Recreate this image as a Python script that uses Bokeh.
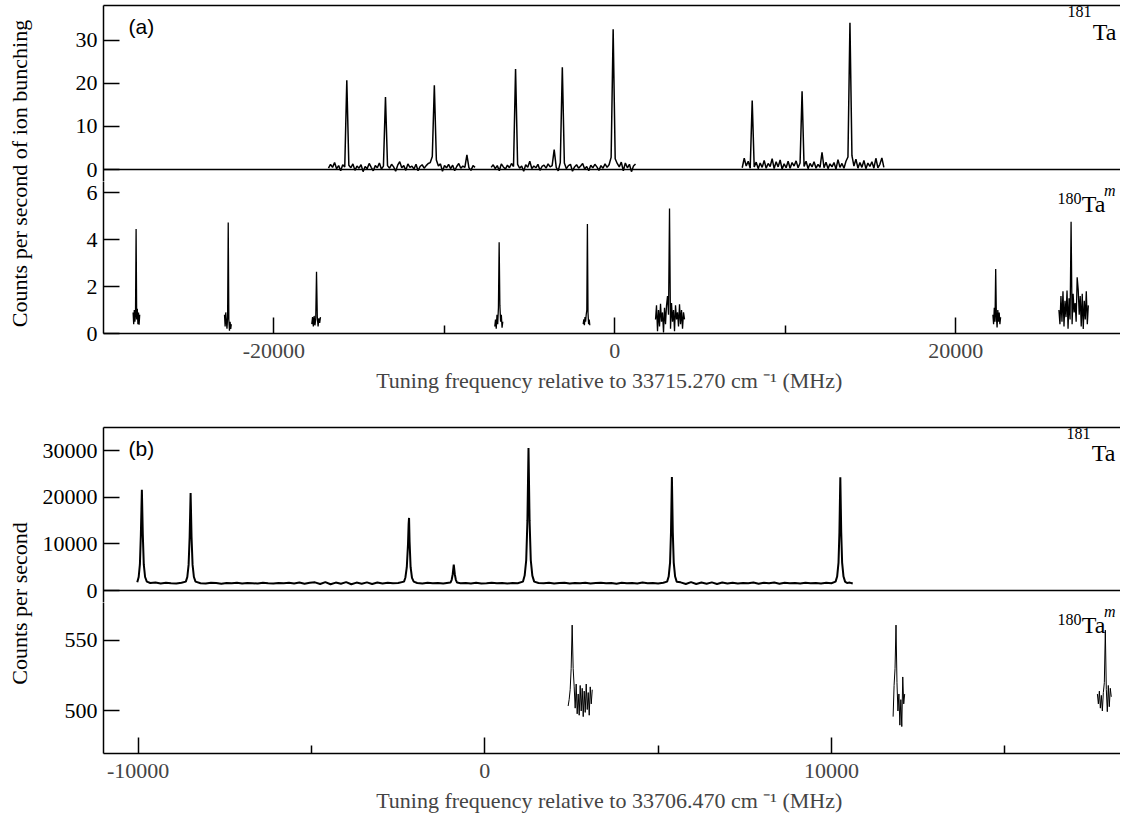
import numpy as np
from bokeh.plotting import figure
from bokeh.layouts import column, row
from bokeh.models import Range1d, FixedTicker, LinearAxis, Span, PrintfTickFormatter
from bokeh.core.properties import value
from bokeh.embed import file_html
from bokeh.resources import INLINE

# ======================= DATA =======================
# ---- panel (a), 181Ta : three scans, (start, end) in MHz, counts on an even grid
a181_ranges = [(-16800, -8200), (-7255, 1215), (7476, 15786)]
a181_s1 = [0.3, 1.2, 0.5, 1.6, 0.2, 0.9, -0.3, 1.1, 0.6, 20.7,
           1.0, 0.4, 1.3, -0.2, 0.8, 0.3, 1.1, -0.5, 0.7, 0.2,
           1.4, 0.5, -0.3, 0.9, 0.4, 1.5, 0.1, 0.8, 16.8, 0.9,
           0.3, 1.2, 0.6, -0.4, 1.0, 1.8, 0.4, 0.9, -0.2, 1.3,
           0.5, 0.8, 0.1, 1.2, -0.3, 0.7, 1.1, 0.3, 0.9, 1.4,
           1.6, 3.0, 19.5, 2.2, 0.8, 1.3, -0.4, 0.9, 0.4, 1.2,
           0.2, 1.0, -0.3, 0.7, 1.4, 0.3, 0.8, 0.5, 3.4, 0.4,
           -0.2, 0.9, 0.5]
a181_s2 = [0.5, 1.1, 0.2, 0.9, -0.3, 1.3, 0.6, 0.1, 1.0, 0.4,
           1.4, 0.7, 23.3, 1.2, 0.3, 0.8, -0.4, 1.1, 0.5, 1.9,
           0.2, 0.8, 0.4, 1.2, -0.2, 0.7, 1.0, 0.3, 1.3, 0.6,
           0.9, 4.6, 0.5, -0.3, 1.6, 23.7, 1.5, 0.2, 0.9, 1.2,
           -0.4, 0.6, 1.1, 0.3, 0.8, 1.4, 0.1, 0.7, -0.3, 1.0,
           0.4, 1.2, 0.6, -0.2, 0.9, 0.3, 1.3, 0.5, 1.1, 2.8,
           32.5, 2.5, 1.4, 0.6, 1.7, -0.3, 1.5, 0.4, 1.2, -0.5,
           0.8, 1.3]
a181_s3 = [0.4, 2.6, 0.8, 1.9, 0.3, 16.0, 0.6, 1.7, 0.2, 1.5,
           0.5, 2.1, 0.3, 1.4, 0.7, 2.5, 0.2, 1.8, 0.6, 2.2,
           0.1, 1.3, 0.4, 1.9, 0.3, 1.6, 0.8, 2.0, 0.4, 1.5,
           18.1, 0.7, 1.9, 0.2, 1.4, 0.6, 1.8, 0.3, 1.2, 0.5,
           4.0, 0.4, 1.7, 0.2, 1.3, 0.6, 1.6, 0.1, 2.3, 0.5,
           1.4, 0.3, 1.9, 2.9, 34.0, 3.2, 0.8, 2.4, 0.3, 1.6,
           0.5, 2.1, 0.2, 1.5, 0.7, 1.8, 0.3, 2.6, 0.4, 1.2,
           2.7, 0.5]

# ---- panel (a), 180Ta^m : eight short scans
a180_ranges = [(-28263, -27876), (-22900, -22500), (-17780, -17270), (-7042, -6573),
               (-1855, -1467), (2388, 4090), (22183, 22635), (26057, 27782)]
a180_s1 = [0.9, 0.4, 1.0, 0.5, 0.8, 4.46, 0.6, 1.05, 0.4, 0.9, 0.37, 0.8]
a180_s2 = [0.8, 0.3, 0.9, 0.5, 0.2, 0.7, 4.74, 0.6, 0.12, 0.5, 0.2, 0.4]
a180_s3 = [0.4, 0.7, 0.3, 0.75, 0.35, 0.6, 2.64, 0.7, 0.3, 0.65, 0.45, 0.7]
a180_s4 = [0.3, 0.6, 0.2, 0.8, 0.4, 1.1, 3.89, 1.2, 0.5, 0.8, 0.25, 0.5]
a180_s5 = [0.4, 0.6, 0.35, 0.7, 0.5, 0.8, 1.0, 4.67, 0.9, 0.4, 0.6, 0.35]
a180_s6 = [0.6, 1.2, 0.1, 1.0, 0.3, 1.27, 0.5, 0.9, 0.04, 1.1,
           0.4, 1.2, 1.6, 0.8, 5.34, 0.2, 1.3, 0.5, 1.0, 0.1,
           1.2, 0.6, 0.9, 0.3, 1.25, 0.4, 1.0, 0.2, 0.9, 0.6]
a180_s7 = [0.8, 0.4, 1.1, 0.5, 2.75, 0.7, 0.26, 1.0, 0.5, 0.9, 0.4, 0.7]
a180_s8 = [1.0, 0.4, 1.6, 0.5, 1.8, 0.3, 1.4, 0.7, 1.83, 0.2,
           1.5, 0.6, 4.77, 0.4, 1.7, 0.9, 1.3, 0.5, 2.4, 1.9,
           0.8, 1.6, 0.3, 1.7, 0.19, 1.4, 0.6, 1.8, 0.4, 1.2]

# ---- panel (b), 181Ta : one long scan, peaks (x,y) and baseline pieces on an even grid
b181_p1_x = [-10026, -9985, -9950, -9922, -9893, -9866, -9838, -9800, -9750]
b181_p1_y = [1750, 2900, 5600, 12000, 21640, 12000, 5600, 2900, 1900]
b181_bl1_range = (-9650, -8750)
b181_bl1 = [1600, 1700, 1500, 1650, 1550, 1500, 1650]
b181_p2_x = [-8625, -8582, -8545, -8515, -8487, -8460, -8430, -8392, -8345]
b181_p2_y = [1900, 2900, 5500, 11500, 20930, 11500, 5500, 2900, 1900]
b181_bl2_range = (-8200, -2500)
b181_bl2 = [1550, 1500, 1650, 1600, 1450, 1600, 1550, 1650, 1500, 1600,
            1550, 1500, 1650, 1550, 1500, 1600, 1550, 1650, 1500, 1700,
            1450, 1650, 1750, 1400, 1800, 1350, 1700, 1450, 1800, 1350,
            1700, 1450, 1750, 1400, 1700, 1500, 1650, 1550, 1600]
b181_p3_x = [-2330, -2290, -2250, -2215, -2197, -2185, -2170, -2140, -2100, -2050]
b181_p3_y = [1900, 2800, 5000, 10000, 14290, 15580, 10500, 5000, 2700, 1900]
b181_bl3_range = (-1950, -1200)
b181_bl3 = [1600, 1500, 1650, 1550, 1600, 1500]
b181_p4_x = [-990, -955, -925, -895, -865, -835, -800]
b181_p4_y = [1700, 2300, 3500, 5570, 3500, 2300, 1700]
b181_bl4_range = (-700, 950)
b181_bl4 = [1550, 1600, 1500, 1650, 1500, 1550, 1650, 1550, 1600, 1500, 1600, 1550]
b181_p5_x = [1100, 1150, 1195, 1230, 1261, 1292, 1327, 1372, 1425]
b181_p5_y = [1900, 3200, 6500, 15000, 30580, 15000, 6500, 3200, 1900]
b181_bl5_range = (1550, 5150)
b181_bl5 = [1600, 1550, 1650, 1500, 1600, 1650, 1500, 1600, 1550, 1650,
            1500, 1600, 1650, 1550, 1600, 1450, 1650, 1550, 1600, 1500,
            1700, 1550, 1600, 1500, 1650]
b181_p6_x = [5260, 5305, 5345, 5372, 5398, 5424, 5451, 5491, 5536]
b181_p6_y = [1900, 3000, 6000, 12500, 24360, 12500, 6000, 3000, 1900]
b181_bl6_range = (5650, 10000)
b181_bl6 = [1750, 1400, 1800, 1400, 1700, 1450, 1750, 1400, 1700, 1500,
            1650, 1500, 1600, 1550, 1700, 1450, 1650, 1550, 1700, 1450,
            1650, 1550, 1600, 1500, 1650, 1550, 1600, 1500, 1650, 1550]
b181_p7_x = [10120, 10165, 10205, 10231, 10257, 10283, 10309, 10349, 10394, 10450, 10530, 10615]
b181_p7_y = [1900, 3000, 6000, 12500, 24290, 12500, 6000, 3000, 1900, 1600, 1700, 1500]

# ---- panel (b), 180Ta^m : three short scans
b180_ranges = [(2405, 3100), (11780, 12114), (17673, 18074)]
b180_s1 = [503.5, 508, 515, 530, 560.6, 530, 517, 502, 519, 498,
           512, 497, 518, 500, 516, 496, 514, 499, 519, 501,
           513, 497, 517, 505, 515]
b180_s2 = [496, 518, 530, 560.6, 520, 500, 512, 490, 508, 489, 524, 505, 512]
b180_s3 = [512, 505, 514, 502, 511, 500, 513, 520, 557, 515, 499.5, 518, 503, 516, 510]

# axis ticks / ranges / labels
a_xticks, a_xminor = [-20000, 0, 20000], [-10000, 10000]
b_xticks, b_xminor = [-10000, 0, 10000], [-5000, 5000, 15000]
a181_yticks, a180_yticks = [0, 10, 20, 30], [0, 2, 4, 6]
b181_yticks, b180_yticks = [0, 10000, 20000, 30000], [500, 550]
a_xlabel = "Tuning frequency relative to 33715.270 cm \u207b\u00b9  (MHz)"
b_xlabel = "Tuning frequency relative to 33706.470 cm \u207b\u00b9  (MHz)"
a_ylabel = "Counts per second of ion bunching"
b_ylabel = "Counts per second"

# ======================= LAYOUT / STYLE =======================
SERIF_NAME = "Liberation Serif"
SERIF = value(SERIF_NAME)
SANS = value("Liberation Sans")
FS = "22px"
LABEL_W = 38
PLOT_W = 1120 - LABEL_W
BORDER_L = 65
SUB_A = 164
SUB_B = 163
PAD = 12
LW = 1.5


def base_fig(height, x_range, y_range, top, bottom):
    p = figure(width=PLOT_W, height=height, x_range=x_range, y_range=y_range,
               x_axis_type=None, y_axis_type=None, output_backend="svg",
               toolbar_location=None, min_border_left=BORDER_L, min_border_right=0,
               min_border_top=top, min_border_bottom=bottom,
               outline_line_color=None, background_fill_color="white",
               border_fill_color="white")
    return p


def left_axis(p, ticks):
    ax = LinearAxis(ticker=FixedTicker(ticks=ticks), formatter=PrintfTickFormatter(format="%d"))
    ax.major_tick_in = 16
    ax.major_tick_out = 0
    ax.minor_tick_in = 0
    ax.minor_tick_out = 0
    ax.major_tick_line_width = LW
    ax.axis_line_width = LW
    ax.major_label_standoff = 6
    ax.major_label_text_font = SERIF_NAME
    ax.major_label_text_font_size = FS
    ax.major_label_text_color = "black"
    p.add_layout(ax, "left")


def top_line(p):
    ax = LinearAxis(ticker=FixedTicker(ticks=[]))
    ax.major_tick_in = 0
    ax.major_tick_out = 0
    ax.minor_tick_in = 0
    ax.minor_tick_out = 0
    ax.major_label_standoff = 0
    ax.major_label_text_font_size = "0px"
    ax.axis_line_width = LW
    p.add_layout(ax, "above")


def bottom_axis(p, ticks, minor, label):
    ax = LinearAxis(ticker=FixedTicker(ticks=ticks, minor_ticks=minor),
                    formatter=PrintfTickFormatter(format="%d"))
    ax.major_tick_in = 16
    ax.major_tick_out = 0
    ax.minor_tick_in = 8
    ax.minor_tick_out = 0
    ax.major_tick_line_width = LW
    ax.minor_tick_line_width = LW
    ax.axis_line_width = LW
    ax.major_label_standoff = 10
    ax.major_label_text_font = SERIF_NAME
    ax.major_label_text_font_size = FS
    ax.axis_label = label
    ax.axis_label_standoff = 7
    ax.axis_label_text_font = SERIF_NAME
    ax.axis_label_text_font_size = FS
    ax.axis_label_text_font_style = "normal"
    p.add_layout(ax, "below")


def separator(p):
    p.add_layout(Span(location=0, dimension="width", line_color="black", line_width=LW))


def grid_line(p, rng, ys, lw=1.0):
    xs = np.linspace(rng[0], rng[1], len(ys))
    p.line(xs, ys, line_color="black", line_width=lw)


def iso_label(p, x, y, pieces):
    # pieces: (text, size, style, x_offset, y_offset) ; offsets from the frame's top-right corner
    for t, s, st, xo, yo in pieces:
        p.text(x=[x], y=[y], text=[t], x_offset=xo, y_offset=yo, text_align="right",
               text_baseline="top", text_font=SERIF, text_font_size=s,
               text_font_style=st, text_color="black")


def panel_tag(p, x, y, t):
    p.text(x=[x], y=[y], text=[t], x_offset=25, y_offset=9, text_align="left",
           text_baseline="top", text_font=SANS, text_font_size="21px", text_color="black")


def ylabel_fig(text, height, center_from_top):
    f = figure(width=LABEL_W, height=height, x_range=Range1d(0, LABEL_W),
               y_range=Range1d(0, height), x_axis_type=None, y_axis_type=None,
               output_backend="svg", toolbar_location=None, min_border=0,
               outline_line_color=None, border_fill_color="white")
    f.text(x=[19], y=[height - center_from_top], text=[text], angle=np.pi / 2,
           text_align="center", text_baseline="middle", text_font=SERIF,
           text_font_size=FS, text_color="black")
    return f


# ---------------- panel (a) ----------------
a_x = Range1d(-30000, 29670)
a1_top = 38.0
a1 = base_fig(5 + SUB_A + PAD, a_x, Range1d(-PAD * a1_top / SUB_A, a1_top), 5, 0)
top_line(a1)
left_axis(a1, a181_yticks)
separator(a1)
for rng, ys in zip(a181_ranges, [a181_s1, a181_s2, a181_s3]):
    grid_line(a1, rng, ys, 1.5)
panel_tag(a1, a_x.start, a1_top, "(a)")
iso_label(a1, a_x.end, a1_top, [("Ta", "24px", "normal", -4, 13), ("181", "16px", "normal", -29, 0)])

a2_full = 7.0
a2 = base_fig(SUB_A - PAD + 63, a_x, Range1d(0, a2_full * (SUB_A - PAD) / SUB_A), 0, 63)
left_axis(a2, a180_yticks)
bottom_axis(a2, a_xticks, a_xminor, a_xlabel)
for rng, ys in zip(a180_ranges, [a180_s1, a180_s2, a180_s3, a180_s4,
                                 a180_s5, a180_s6, a180_s7, a180_s8]):
    grid_line(a2, rng, ys, 1.3)
iso_label(a2, a_x.end, a2.y_range.end, [("m", "16px", "italic", -5, 0), ("Ta", "24px", "normal", -15, 9),
                                        ("180", "16px", "normal", -39, 11)])

# ---------------- panel (b) ----------------
b_x = Range1d(-11000, 18340)
b1_top = 35000.0
b1 = base_fig(31 + SUB_B + PAD, b_x, Range1d(-PAD * b1_top / SUB_B, b1_top), 31, 0)
top_line(b1)
left_axis(b1, b181_yticks)
separator(b1)
bx, by = [], []
for px_, py_, brng, bys in [(b181_p1_x, b181_p1_y, b181_bl1_range, b181_bl1),
                            (b181_p2_x, b181_p2_y, b181_bl2_range, b181_bl2),
                            (b181_p3_x, b181_p3_y, b181_bl3_range, b181_bl3),
                            (b181_p4_x, b181_p4_y, b181_bl4_range, b181_bl4),
                            (b181_p5_x, b181_p5_y, b181_bl5_range, b181_bl5),
                            (b181_p6_x, b181_p6_y, b181_bl6_range, b181_bl6)]:
    bx += list(px_)
    by += list(py_)
    bx += list(np.linspace(brng[0], brng[1], len(bys)))
    by += list(bys)
bx += b181_p7_x
by += b181_p7_y
b1.line(bx, by, line_color="black", line_width=2.0)
panel_tag(b1, b_x.start, b1_top, "(b)")
iso_label(b1, b_x.end, b1_top, [("Ta", "24px", "normal", -5, 12), ("181", "16px", "normal", -30, 0)])

b2_lo, b2_span = 470.0, 115.0
b2 = base_fig(SUB_B - PAD + 65, b_x,
              Range1d(b2_lo, b2_lo + b2_span * (SUB_B - PAD) / SUB_B), 0, 65)
left_axis(b2, b180_yticks)
bottom_axis(b2, b_xticks, b_xminor, b_xlabel)
for rng, ys in zip(b180_ranges, [b180_s1, b180_s2, b180_s3]):
    grid_line(b2, rng, ys, 1.0)
iso_label(b2, b_x.end, b2.y_range.end, [("m", "16px", "italic", -5, 0), ("Ta", "24px", "normal", -15, 9),
                                         ("180", "16px", "normal", -39, 11)])

ha = (5 + SUB_A + PAD) + (SUB_A - PAD + 63)
hb = (31 + SUB_B + PAD) + (SUB_B - PAD + 65)
la = ylabel_fig(a_ylabel, ha, 173)
lb = ylabel_fig(b_ylabel, hb, 207)

layout = column(row(la, column(a1, a2)), row(lb, column(b1, b2)))
open("out.html", "w").write(file_html(layout, INLINE))
